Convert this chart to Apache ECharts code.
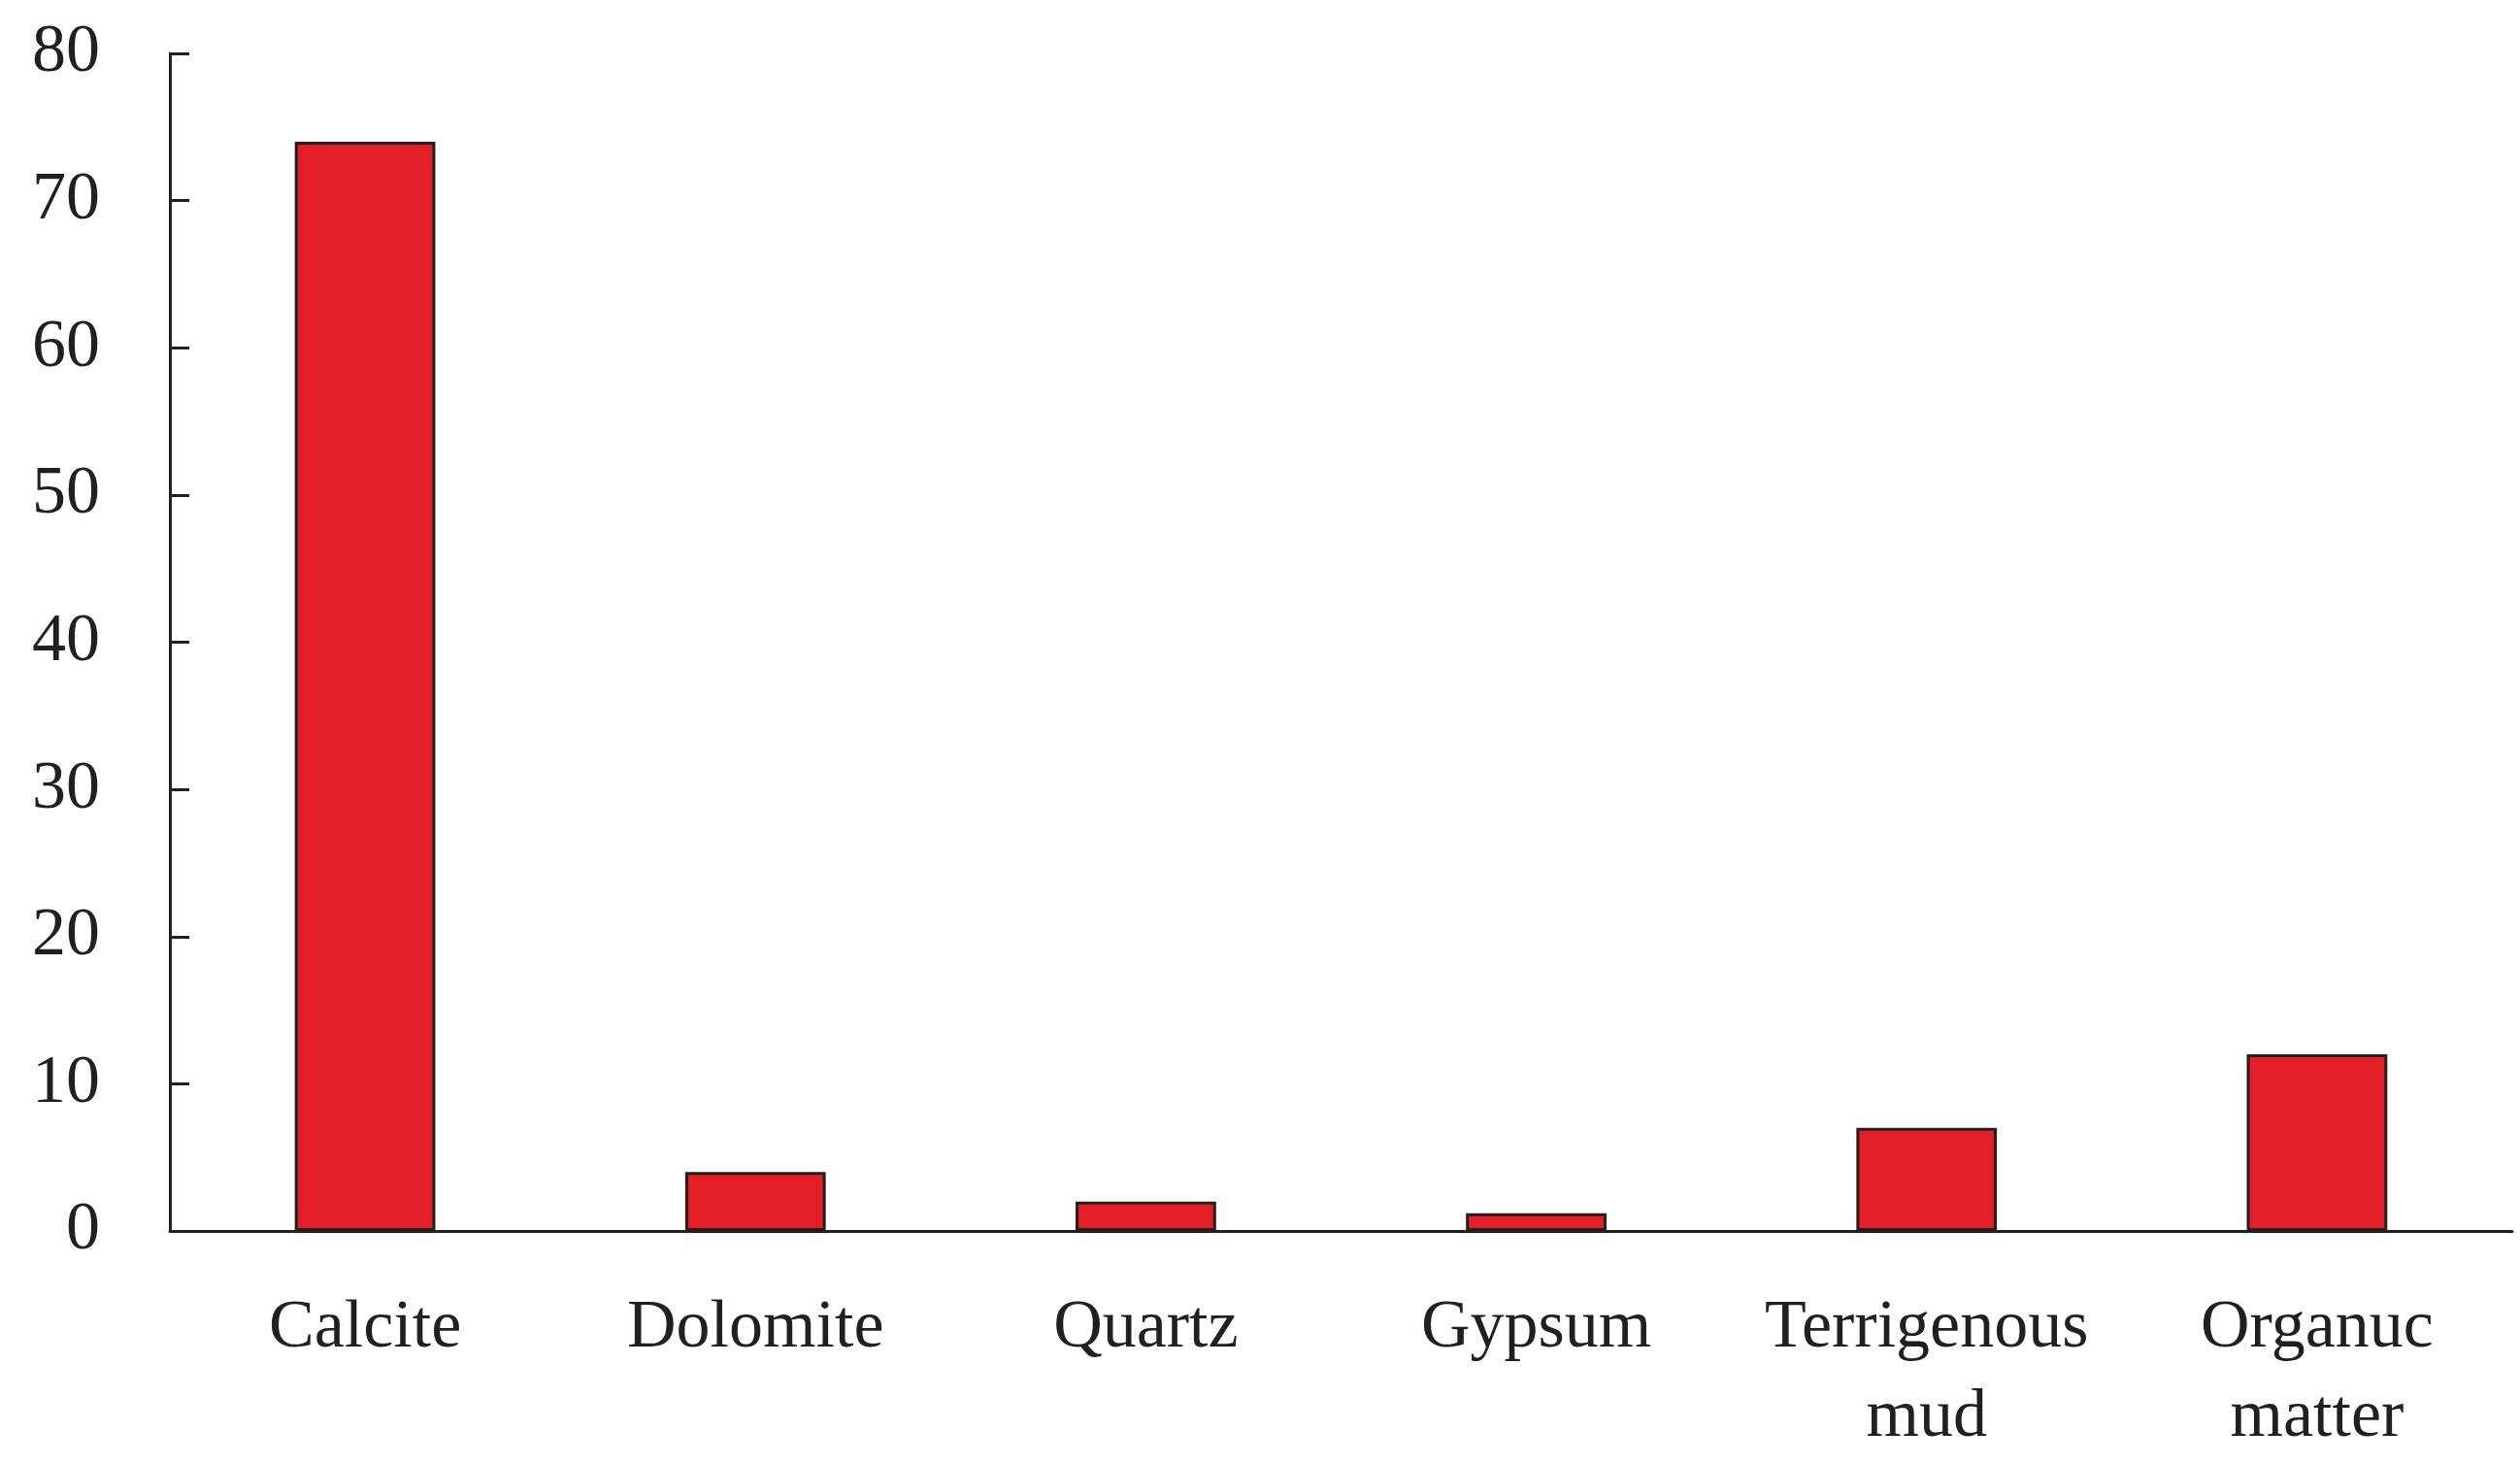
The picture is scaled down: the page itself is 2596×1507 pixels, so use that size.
<!DOCTYPE html>
<html><head><meta charset="utf-8">
<script src="https://cdn.jsdelivr.net/npm/echarts@6/dist/echarts.min.js"></script>
<style>html,body{margin:0;padding:0;background:#fff}#c{width:2596px;height:1507px}</style>
</head><body><div id="c"></div>
<script>
const categories = ["Calcite", "Dolomite", "Quartz", "Gypsum", "Terrigenous\nmud", "Organuc\nmatter"];
const values = [74, 4, 2, 1.2, 7, 12];
const yTicks = [0, 10, 20, 30, 40, 50, 60, 70, 80];
const chart = echarts.init(document.getElementById('c'));
chart.setOption({
  animation: false,
  backgroundColor: '#fff',
  grid: { left: 175, right: 8, top: 55, bottom: 237 },
  xAxis: {
    type: 'category', data: categories,
    axisLine: { lineStyle: { color: '#231f20', width: 3 } },
    axisTick: { show: false },
    axisLabel: { color: '#231f20', fontFamily: 'Liberation Serif', fontSize: 70, margin: 55, lineHeight: 92, interval: 0 }
  },
  yAxis: {
    type: 'value', min: 0, max: 80, interval: 10,
    splitLine: { show: false },
    axisLine: { show: true, lineStyle: { color: '#231f20', width: 3 } },
    axisTick: { show: true, inside: true, length: 20, lineStyle: { color: '#231f20', width: 3 } },
    axisLabel: { color: '#231f20', fontFamily: 'Liberation Serif', fontSize: 70, margin: 72,
      formatter: v => yTicks.includes(v) ? String(v) : '' }
  },
  series: [{
    type: 'bar', data: values, barWidth: '36%',
    itemStyle: { color: '#E31E26', borderColor: '#231f20', borderWidth: 3 }
  }]
});
</script></body></html>
